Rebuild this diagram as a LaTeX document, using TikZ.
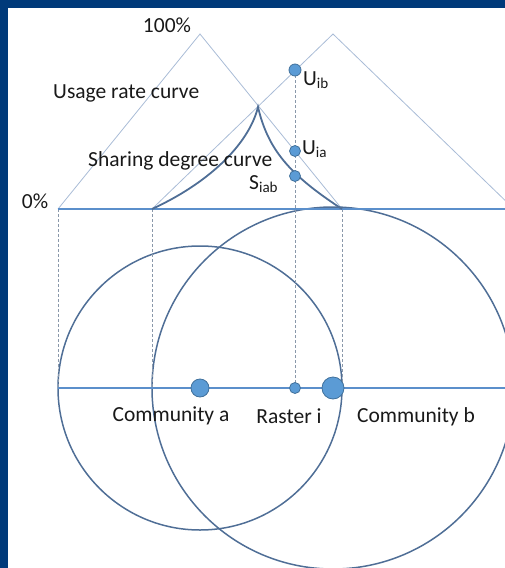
\documentclass[tikz,border=0pt]{standalone}
\usepackage{fontspec}
\setmainfont{Carlito}
\begin{document}
\begin{tikzpicture}[x=1pt,y=-1pt,
  lbl/.style={font=\fontsize{21.5}{24}\selectfont, inner sep=0pt, text=black!90},
  tri/.style={draw=lightline, line width=0.8pt},
  base/.style={draw=baseblue, line width=1.8pt},
  guide/.style={draw=guidegray, line width=0.6pt, dash pattern=on 3pt off 2pt},
  circ/.style={draw=circblue, line width=1.5pt},
  share/.style={draw=circblue, line width=1.8pt},
  dot/.style={circle, fill=dotfill, draw=dotline, line width=0.8pt, inner sep=0pt, minimum size=#1}
]
\definecolor{navy}{HTML}{003A7A}
\definecolor{lightline}{HTML}{A9BCD6}
\definecolor{baseblue}{HTML}{5B8FCB}
\definecolor{guidegray}{HTML}{8A98AA}
\definecolor{circblue}{HTML}{4F6E96}
\definecolor{dotfill}{HTML}{5B9BD5}
\definecolor{dotline}{HTML}{41719C}
\useasboundingbox (0,0) rectangle (505,568);
\fill[navy] (0,0) rectangle (505,8);
\fill[navy] (0,0) rectangle (8,568);

% key points
\coordinate (a0) at (58,209);
\coordinate (aTop) at (200,34);
\coordinate (a1) at (342,209);
\coordinate (b0) at (152,209);
\coordinate (bTop) at (333,34);
\coordinate (b1) at (514,209);
\coordinate (peak) at (258,107);
\coordinate (baseR) at (505,209);
\coordinate (lineL) at (58,388);
\coordinate (lineR) at (505,388);
\coordinate (ca) at (200,388);
\coordinate (cb) at (333,388);

\begin{scope}
\clip (8,8) rectangle (505,568);
% usage rate curves
\draw[tri] (a0) -- (aTop) -- (a1);
\draw[tri] (b0) -- (bTop) -- (b1);
% circles
\draw[circ] (ca) circle[radius=142];
\draw[circ] (cb) circle[radius=181];
\end{scope}

% dashed guides
\draw[guide] (a0) -- (58,388);
\draw[guide] (b0) -- (152,388);
\draw[guide] (a1) -- (342,388);
\draw[guide] (295,70) -- (295,388);

% baselines
\draw[base] (a0) -- (baseR);
\draw[base, line width=1.4pt] (lineL) -- (lineR);

% sharing degree curve
\draw[share] (b0) .. controls (215,180) and (250,140) .. (peak)
  .. controls (268,150) and (290,175) .. (a1);

% dots
\node[dot=12pt] (uib) at (295,70) {};
\node[dot=11pt] (uia) at (295,151) {};
\node[dot=11pt] (siab) at (295,176) {};
\node[dot=18pt] (dca) at (ca) {};
\node[dot=11pt] (dri) at (295,388) {};
\node[dot=22pt] (dcb) at (cb) {};

% labels
\node[lbl] (p100) at (167,25) {100\%};
\node[lbl] (p0) at (35,201) {0\%};
\node[lbl, anchor=west] (usage) at (53,93) {Usage rate curve};
\node[lbl, anchor=west] (sharing) at (88,161) {Sharing degree curve};
\node[lbl, anchor=west] (lib) at (303,80) {U\textsubscript{ib}};
\node[lbl, anchor=west] (lia) at (302,149) {U\textsubscript{ia}};
\node[lbl, anchor=west] (lsiab) at (249,184) {S\textsubscript{iab}};
\node[lbl] (comma) at (171,416) {Community a};
\node[lbl] (rast) at (289,416) {Raster i};
\node[lbl] (commb) at (416,417) {Community b};
\end{tikzpicture}
\end{document}
